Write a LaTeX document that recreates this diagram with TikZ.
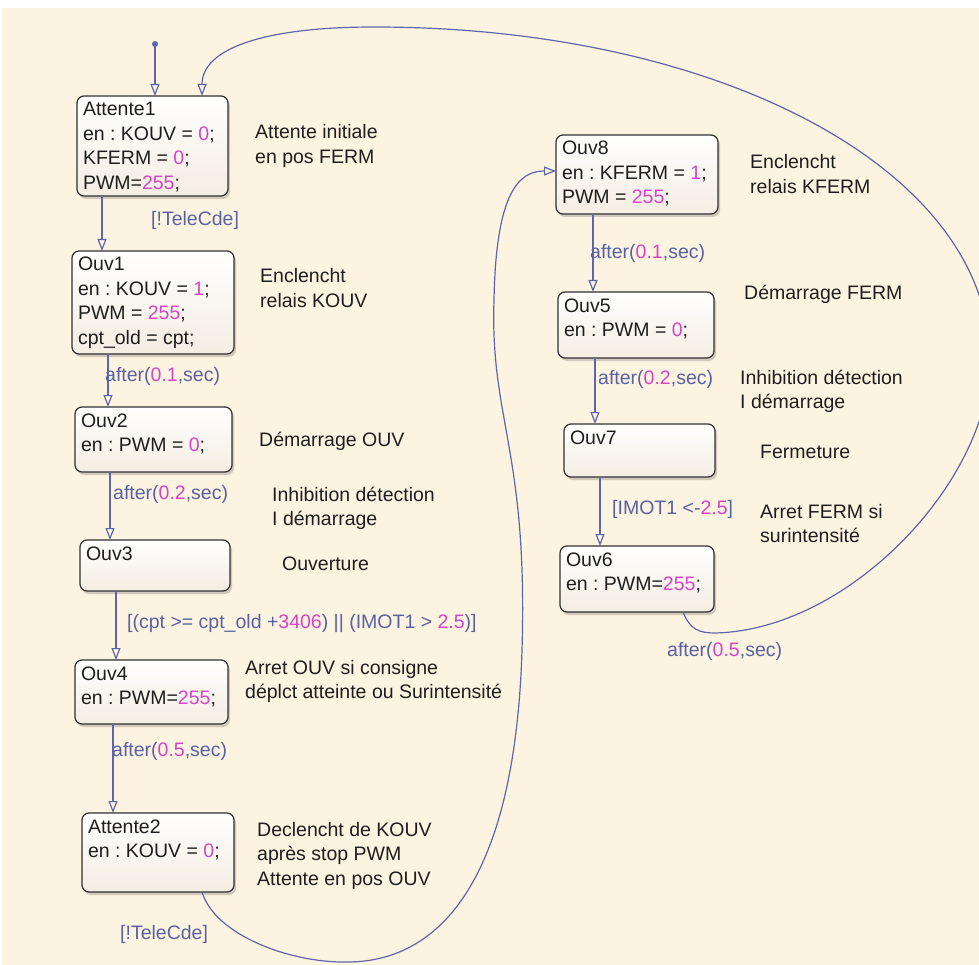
\documentclass[tikz,border=0pt]{standalone}
\usepackage{fontspec}
\setmainfont{Liberation Sans}
\usetikzlibrary{arrows.meta,shadows}
\frenchspacing

\definecolor{bgcream}{HTML}{FDF3E1}
\definecolor{boxline}{HTML}{303030}
\definecolor{boxbot}{HTML}{F4EDE2}
\definecolor{transcol}{HTML}{5C66AC}
\definecolor{labcol}{HTML}{5862A4}
\definecolor{numcol}{HTML}{D844C8}
\definecolor{txtcol}{HTML}{1E1E1E}

\newcommand\nm[1]{\textcolor{numcol}{#1}}
\newcommand\stfont{\fontsize{19.5}{24.5}\selectfont}
% state body: width, height, lines
\newcommand\stcontent[3]{\parbox[c][#2][t]{#1}{\stfont\raggedright\leftskip=6pt\rule{0pt}{20pt}#3}}
% multi-line comment block, aligned on its first baseline
\newcommand\cmtlines[1]{\begin{tabular}[t]{@{}l@{}}#1\end{tabular}}

\tikzset{
  statebox/.style={draw=boxline, line width=1.2pt, rounded corners=7pt,
    top color=white, bottom color=boxbot, anchor=north west, inner sep=0pt,
    outer sep=0pt, text=txtcol,
    drop shadow={shadow xshift=2pt, shadow yshift=-3pt, opacity=0.25, fill=black!70}},
  trans/.style={draw=transcol, line width=1.2pt,
    -{Triangle[open, length=12pt, width=9pt]}},
  lab/.style={anchor=base west, inner sep=0pt, text=labcol, font=\stfont},
  cmt/.style={anchor=base west, inner sep=0pt, text=txtcol, font=\stfont},
}

\begin{document}
\begin{tikzpicture}[x=1pt, y=-1pt]
\useasboundingbox (0,0) rectangle (979,965);
\fill[white] (0,0) rectangle (979,965);
\fill[bgcream] (2,8) rectangle (979,965);

% ---- left column of states
\node[statebox] (Attente1) at (77,96)
  {\stcontent{151pt}{100pt}{Attente1\\en : KOUV = \nm{0};\\KFERM = \nm{0};\\PWM=\nm{255};}};
\node[statebox] (Ouv1) at (72,251)
  {\stcontent{162pt}{103pt}{Ouv1\\en : KOUV = \nm{1};\\PWM = \nm{255};\\cpt\_old = cpt;}};
\node[statebox] (Ouv2) at (75,407)
  {\stcontent{157pt}{65pt}{Ouv2\\en : PWM = \nm{0};}};
\node[statebox] (Ouv3) at (80,540)
  {\stcontent{150pt}{51pt}{Ouv3}};
\node[statebox] (Ouv4) at (75,660)
  {\stcontent{153pt}{64pt}{Ouv4\\en : PWM=\nm{255};}};
\node[statebox] (Attente2) at (82,813)
  {\stcontent{152pt}{79pt}{Attente2\\en : KOUV = \nm{0};}};

% ---- right column of states
\node[statebox] (Ouv8) at (556,135)
  {\stcontent{162pt}{79pt}{Ouv8\\en : KFERM = \nm{1};\\PWM = \nm{255};}};
\node[statebox] (Ouv5) at (558,292)
  {\stcontent{156pt}{66pt}{Ouv5\\en : PWM = \nm{0};}};
\node[statebox] (Ouv7) at (564,424)
  {\stcontent{151pt}{53pt}{Ouv7}};
\node[statebox] (Ouv6) at (560,546)
  {\stcontent{154pt}{66pt}{Ouv6\\en : PWM=\nm{255};}};

% ---- default transition
\coordinate (init) at (155,44);
\fill[transcol] (init) circle (3);
\draw[trans] (init) -- (Attente1.north -| init);

% ---- straight transitions
\draw[trans] (Attente1.south -| 102,0) -- (Ouv1.north -| 102,0);
\draw[trans] (Ouv1.south -| 108,0) -- (Ouv2.north -| 108,0);
\draw[trans] (Ouv2.south -| 110,0) -- (Ouv3.north -| 110,0);
\draw[trans] (Ouv3.south -| 116,0) -- (Ouv4.north -| 116,0);
\draw[trans] (Ouv4.south -| 113,0) -- (Attente2.north -| 113,0);
\draw[trans] (Ouv8.south -| 593,0) -- (Ouv5.north -| 593,0);
\draw[trans] (Ouv5.south -| 595,0) -- (Ouv7.north -| 595,0);
\draw[trans] (Ouv7.south -| 600,0) -- (Ouv6.north -| 600,0);

% ---- loop back transitions
\draw[trans] (Attente2.south -| 202,0)
  .. controls (215,935) and (290,963) .. (347,962)
  .. controls (440,962) and (515,880) .. (522,650)
  .. controls (528,450) and (490,420) .. (494,300)
  .. controls (496,190) and (520,171) .. (Ouv8.west |- 0,171);
\draw[trans] (Ouv6.south -| 683,0)
  .. controls (690,630) and (700,633) .. (715,633)
  .. controls (850,630) and (990,480) .. (990,360)
  .. controls (990,170) and (720,27) .. (374,27)
  .. controls (260,27) and (202,50) .. (Attente1.north -| 202,0);

% ---- transition labels
\node[lab] (t1) at (151,226) {[!TeleCde]};
\node[lab] (t2) at (105,381) {after(\nm{0.1},sec)};
\node[lab] (t3) at (113,499) {after(\nm{0.2},sec)};
\node[lab] (t4) at (127,628) {[(cpt >= cpt\_old +\nm{3406}) || (IMOT1 > \nm{2.5})]};
\node[lab] (t5) at (112,756) {after(\nm{0.5},sec)};
\node[lab] (t6) at (120,939) {[!TeleCde]};
\node[lab] (t7) at (590,259) {after(\nm{0.1},sec)};
\node[lab] (t8) at (598,384) {after(\nm{0.2},sec)};
\node[lab] (t9) at (612,514) {[IMOT1 <-\nm{2.5}]};
\node[lab] (t10) at (667,656) {after(\nm{0.5},sec)};

% ---- comments
\node[cmt] (c1) at (255,139) {\cmtlines{Attente initiale\\en pos FERM}};
\node[cmt] (c2) at (260,283) {\cmtlines{Enclencht\\relais KOUV}};
\node[cmt] (c3) at (259,446) {Démarrage OUV};
\node[cmt] (c4) at (272,501) {\cmtlines{Inhibition détection\\I démarrage}};
\node[cmt] (c5) at (282,570) {Ouverture};
\node[cmt] (c6) at (245,674) {\cmtlines{Arret OUV si consigne\\déplct atteinte ou Surintensité}};
\node[cmt] (c7) at (257,836) {\cmtlines{Declencht de KOUV\\après stop PWM\\Attente en pos OUV}};
\node[cmt] (c8) at (750,169) {\cmtlines{Enclencht\\relais KFERM}};
\node[cmt] (c9) at (744,300) {Démarrage FERM};
\node[cmt] (c10) at (740,384) {\cmtlines{Inhibition détection\\I démarrage}};
\node[cmt] (c11) at (760,458) {Fermeture};
\node[cmt] (c12) at (760,518) {\cmtlines{Arret FERM si\\surintensité}};
\end{tikzpicture}
\end{document}
